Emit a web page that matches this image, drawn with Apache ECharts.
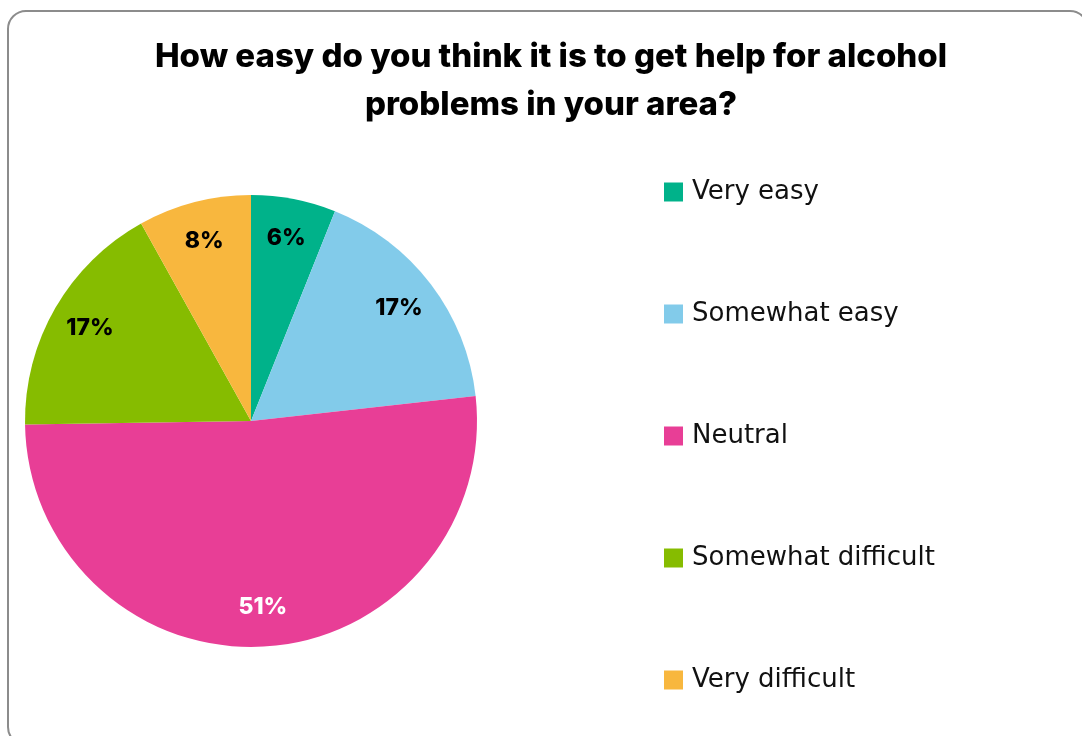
<!DOCTYPE html>
<html>
<head>
<meta charset="utf-8">
<script src="https://cdn.jsdelivr.net/npm/echarts@6/dist/echarts.min.js"></script>
<style>
  html, body { margin: 0; padding: 0; background: #ffffff; }
  #chart { width: 1082px; height: 736px; }
</style>
</head>
<body>
<div id="chart"></div>
<script>
// Survey responses: ease of getting help for alcohol problems
const categories = ['Very easy', 'Somewhat easy', 'Neutral', 'Somewhat difficult', 'Very difficult'];
const percentages = [6, 17, 51, 17, 8];
const sliceColors = ['#00B28A', '#82CBEA', '#E83E96', '#86BC00', '#F8B73E'];
const labelColors = ['#000000', '#000000', '#ffffff', '#000000', '#000000'];
const titleText = 'How easy do you think it is to get help for alcohol\nproblems in your area?';

const TITLE_FONT = 'Inter, "Noto Sans", sans-serif';
const BODY_FONT = '"DejaVu Sans", "Noto Sans", sans-serif';

const sliceData = categories.map((name, i) => ({
  name,
  value: percentages[i],
  itemStyle: { color: sliceColors[i] }
}));

const labelData = categories.map((name, i) => ({
  name,
  value: percentages[i],
  label: { color: labelColors[i] }
}));

const chart = echarts.init(document.getElementById('chart'), null, { renderer: 'canvas' });

chart.setOption({
  animation: false,
  backgroundColor: '#ffffff',
  graphic: [{
    type: 'rect',
    shape: { x: 8, y: 11, width: 1080, height: 734, r: 18 },
    style: { fill: 'none', stroke: '#8c8c8c', lineWidth: 2 },
    silent: true,
    z: -10
  }],
  title: {
    text: titleText,
    left: 546,
    top: 28,
    textAlign: 'center',
    textStyle: {
      fontFamily: TITLE_FONT,
      fontWeight: 800,
      fontSize: 33,
      lineHeight: 48,
      color: '#000000'
    }
  },
  legend: {
    orient: 'vertical',
    left: 664,
    top: 179,
    padding: 0,
    icon: 'rect',
    itemWidth: 19,
    itemHeight: 19,
    itemGap: 96,
    data: categories,
    selectedMode: false,
    textStyle: {
      fontFamily: BODY_FONT,
      fontSize: 26,
      lineHeight: 24,
      color: '#111111',
      padding: [0, 0, 0, 4]
    }
  },
  series: [
    {
      name: 'slices',
      type: 'pie',
      center: [251, 421],
      radius: [0, 226],
      startAngle: 90,
      clockwise: true,
      label: { show: false },
      labelLine: { show: false },
      emphasis: { disabled: true },
      data: sliceData
    },
    {
      // transparent ring that only carries the percentage labels
      name: 'labels',
      type: 'pie',
      center: [251, 421],
      radius: [162, 204],
      startAngle: 90,
      clockwise: true,
      silent: true,
      legendHoverLink: false,
      itemStyle: { color: 'rgba(0,0,0,0)' },
      label: {
        show: true,
        position: 'inside',
        formatter: '{c}%',
        fontFamily: TITLE_FONT,
        fontWeight: 800,
        fontSize: 23
      },
      labelLine: { show: false },
      emphasis: { disabled: true },
      data: labelData
    }
  ]
});
</script>
</body>
</html>
